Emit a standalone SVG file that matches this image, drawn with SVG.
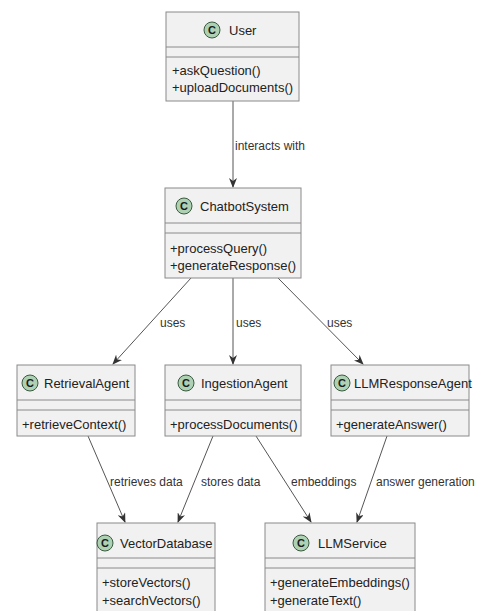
<svg xmlns="http://www.w3.org/2000/svg" width="481" height="611" viewBox="0 0 481 611">
<style>
.box{fill:#f1f1f1;stroke:#8a8a8a;stroke-width:1}
.sep{stroke:#8a8a8a;stroke-width:1}
.ic{fill:#add1b2;stroke:#3a5a40;stroke-width:1}
.icl{font-family:"Liberation Sans",Arial,sans-serif;font-size:11px;font-weight:bold;fill:#1a1a1a;text-anchor:middle}
.title{font-family:"Liberation Sans",Arial,sans-serif;font-size:13px;fill:#222}
.m{font-family:"Liberation Sans",Arial,sans-serif;font-size:13px;fill:#222}
.lbl{font-family:"Liberation Sans",Arial,sans-serif;font-size:12px;fill:#333}
.edge{stroke:#555;stroke-width:1;fill:none;marker-end:url(#ah)}
</style>
<defs>
<marker id="ah" markerWidth="10" markerHeight="8" refX="9" refY="4" orient="auto" markerUnits="userSpaceOnUse">
<path d="M0,0 L10,4 L0,8 L3,4 z" fill="#333"/>
</marker>
</defs>
<rect width="481" height="611" fill="#ffffff"/>
<g id="connectors">
<line class="edge" x1="233" y1="101" x2="233" y2="187"/>
<text class="lbl" x="235" y="150">interacts with</text>
<line class="edge" x1="191" y1="278" x2="113" y2="364"/>
<text class="lbl" x="160" y="327">uses</text>
<line class="edge" x1="233" y1="278" x2="233" y2="364"/>
<text class="lbl" x="236" y="327">uses</text>
<line class="edge" x1="278" y1="278" x2="363" y2="364"/>
<text class="lbl" x="327" y="327">uses</text>
<line class="edge" x1="88" y1="436" x2="125" y2="522"/>
<text class="lbl" x="110" y="486">retrieves data</text>
<line class="edge" x1="213" y1="436" x2="178" y2="522"/>
<text class="lbl" x="201" y="486">stores data</text>
<line class="edge" x1="256" y1="436" x2="311" y2="522"/>
<text class="lbl" x="291" y="486">embeddings</text>
<line class="edge" x1="387" y1="436" x2="357" y2="522"/>
<text class="lbl" x="376" y="486">answer generation</text>
</g>
<g id="User">
<rect class="box" x="166" y="12" width="133" height="89"/>
<line class="sep" x1="166" y1="47" x2="299" y2="47"/>
<line class="sep" x1="166" y1="57" x2="299" y2="57"/>
<circle class="ic" cx="212" cy="30" r="8"/>
<text class="icl" x="212" y="34">C</text>
<text class="title" x="229" y="35">User</text>
<text class="m" x="172" y="75">+askQuestion()</text>
<text class="m" x="172" y="92">+uploadDocuments()</text>
</g>
<g id="ChatbotSystem">
<rect class="box" x="165" y="188" width="136" height="90"/>
<line class="sep" x1="165" y1="223" x2="301" y2="223"/>
<line class="sep" x1="165" y1="233" x2="301" y2="233"/>
<circle class="ic" cx="184" cy="206" r="8"/>
<text class="icl" x="184" y="210">C</text>
<text class="title" x="200" y="211">ChatbotSystem</text>
<text class="m" x="170" y="253">+processQuery()</text>
<text class="m" x="170" y="270">+generateResponse()</text>
</g>
<g id="RetrievalAgent">
<rect class="box" x="17" y="365" width="118" height="71"/>
<line class="sep" x1="17" y1="400" x2="135" y2="400"/>
<line class="sep" x1="17" y1="410" x2="135" y2="410"/>
<circle class="ic" cx="30" cy="383" r="8"/>
<text class="icl" x="30" y="387">C</text>
<text class="title" x="44" y="388">RetrievalAgent</text>
<text class="m" x="22" y="429">+retrieveContext()</text>
</g>
<g id="IngestionAgent">
<rect class="box" x="165" y="365" width="136" height="71"/>
<line class="sep" x1="165" y1="400" x2="301" y2="400"/>
<line class="sep" x1="165" y1="410" x2="301" y2="410"/>
<circle class="ic" cx="186" cy="383" r="8"/>
<text class="icl" x="186" y="387">C</text>
<text class="title" x="201" y="388">IngestionAgent</text>
<text class="m" x="170" y="429">+processDocuments()</text>
</g>
<g id="LLMResponseAgent">
<rect class="box" x="331" y="365" width="138" height="71"/>
<line class="sep" x1="331" y1="400" x2="469" y2="400"/>
<line class="sep" x1="331" y1="410" x2="469" y2="410"/>
<circle class="ic" cx="342" cy="383" r="8"/>
<text class="icl" x="342" y="387">C</text>
<text class="title" x="354" y="388">LLMResponseAgent</text>
<text class="m" x="336" y="429">+generateAnswer()</text>
</g>
<g id="VectorDatabase">
<rect class="box" x="97" y="523" width="118" height="92"/>
<line class="sep" x1="97" y1="558" x2="215" y2="558"/>
<line class="sep" x1="97" y1="568" x2="215" y2="568"/>
<circle class="ic" cx="105" cy="543" r="8"/>
<text class="icl" x="105" y="547">C</text>
<text class="title" x="120" y="548">VectorDatabase</text>
<text class="m" x="102" y="587">+storeVectors()</text>
<text class="m" x="102" y="605">+searchVectors()</text>
</g>
<g id="LLMService">
<rect class="box" x="265" y="523" width="150" height="92"/>
<line class="sep" x1="265" y1="558" x2="415" y2="558"/>
<line class="sep" x1="265" y1="568" x2="415" y2="568"/>
<circle class="ic" cx="301" cy="543" r="8"/>
<text class="icl" x="301" y="547">C</text>
<text class="title" x="318" y="548">LLMService</text>
<text class="m" x="270" y="587">+generateEmbeddings()</text>
<text class="m" x="270" y="605">+generateText()</text>
</g>
</svg>
